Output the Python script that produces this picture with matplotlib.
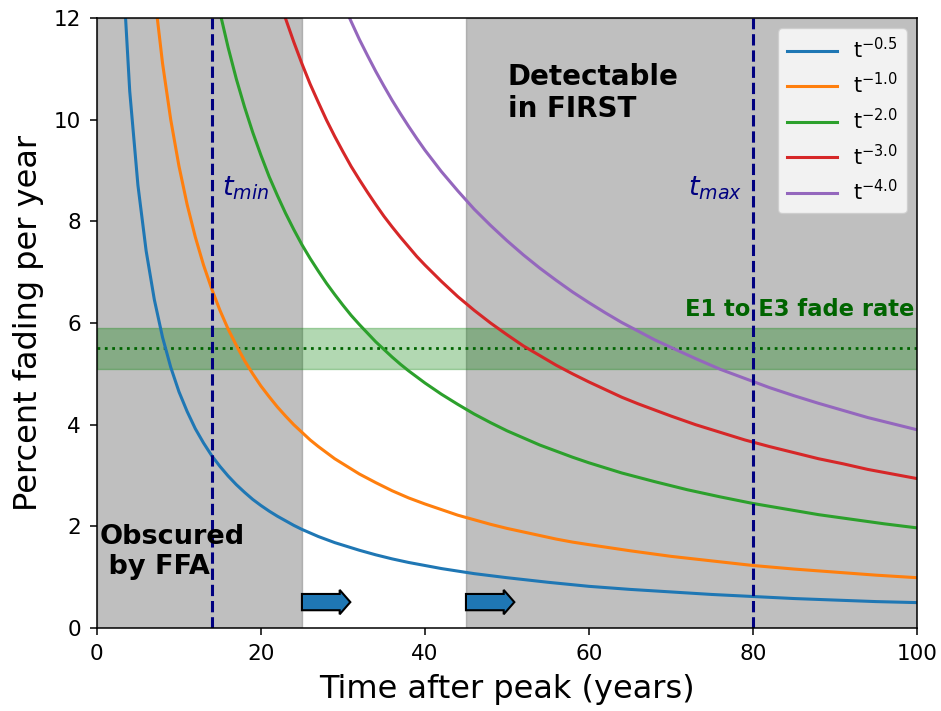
import numpy as np
import matplotlib
matplotlib.use("Agg")
import matplotlib.pyplot as plt
import matplotlib.patches as mpatches

# time after peak (years) and percent fading per year
t_05 = list(range(3, 31)) + list(range(32, 51, 2)) + list(range(55, 101, 5))
fade_05 = [13.40, 10.56, 8.71, 7.42, 6.46, 5.72, 5.13, 4.65, 4.26, 3.92,
           3.64, 3.39, 3.18, 2.99, 2.82, 2.67, 2.53, 2.41, 2.30, 2.20,
           2.11, 2.02, 1.94, 1.87, 1.80, 1.74, 1.68, 1.63,
           1.53, 1.44, 1.36, 1.29, 1.23, 1.17, 1.12, 1.07, 1.03, 0.99,
           0.90, 0.82, 0.76, 0.71, 0.66, 0.62, 0.58, 0.55, 0.52, 0.50]

t_10 = list(range(7, 31)) + list(range(32, 61, 2)) + list(range(65, 101, 5))
fade_10 = [12.50, 11.11, 10.00, 9.09, 8.33, 7.69, 7.14, 6.67, 6.25, 5.88,
           5.56, 5.26, 5.00, 4.76, 4.55, 4.35, 4.17, 4.00, 3.85, 3.70,
           3.57, 3.45, 3.33, 3.23,
           3.03, 2.86, 2.70, 2.56, 2.44, 2.33, 2.22, 2.13, 2.04, 1.96,
           1.89, 1.82, 1.75, 1.69, 1.64,
           1.52, 1.41, 1.32, 1.23, 1.16, 1.10, 1.04, 0.99]

t_20 = list(range(15, 41)) + list(range(42, 61, 2)) + list(range(64, 101, 4))
fade_20 = [12.11, 11.42, 10.80, 10.25, 9.75, 9.30, 8.88, 8.51, 8.16, 7.84,
           7.54, 7.27, 7.02, 6.78, 6.56, 6.35, 6.15, 5.97, 5.80, 5.63,
           5.48, 5.33, 5.19, 5.06, 4.94, 4.82,
           4.60, 4.40, 4.21, 4.04, 3.88, 3.74, 3.60, 3.48, 3.36, 3.25,
           3.05, 2.88, 2.72, 2.58, 2.45, 2.34, 2.23, 2.14, 2.05, 1.97]

t_30 = list(range(22, 41)) + list(range(42, 71, 2)) + list(range(73, 101, 3))
fade_30 = [12.49, 11.99, 11.53, 11.10, 10.70, 10.34, 9.99, 9.67, 9.37, 9.08,
           8.82, 8.57, 8.33, 8.10, 7.89, 7.69, 7.50, 7.31, 7.14,
           6.82, 6.52, 6.25, 6.00, 5.77, 5.55, 5.36, 5.17, 5.00, 4.84,
           4.69, 4.54, 4.41, 4.29, 4.17,
           4.00, 3.85, 3.70, 3.57, 3.45, 3.33, 3.23, 3.12, 3.03, 2.94]

t_40 = list(range(30, 45)) + list(range(46, 71, 2)) + list(range(73, 101, 3))
fade_40 = [12.29, 11.93, 11.58, 11.26, 10.95, 10.66, 10.38, 10.12, 9.87, 9.63,
           9.40, 9.19, 8.98, 8.79, 8.60,
           8.24, 7.92, 7.62, 7.34, 7.08, 6.84, 6.61, 6.40, 6.20, 6.01,
           5.84, 5.67, 5.52,
           5.30, 5.09, 4.91, 4.73, 4.57, 4.42, 4.28, 4.14, 4.02, 3.90]

labels = ["t$^{-0.5}$", "t$^{-1.0}$", "t$^{-2.0}$", "t$^{-3.0}$", "t$^{-4.0}$"]

t_min, t_max = 14, 80
ffa_end, first_start = 25, 45
e1e3_rate, e1e3_lo, e1e3_hi = 5.5, 5.1, 5.9

fig = plt.figure(figsize=(9.41, 7.11), dpi=100)
ax = fig.add_axes([0.103, 0.1167, 0.8715, 0.858])

ax.axvspan(0, ffa_end, color='gray', alpha=0.5)
ax.axvspan(first_start, 100, color='gray', alpha=0.5)
ax.axhspan(e1e3_lo, e1e3_hi, color='green', alpha=0.3)
ax.axhline(e1e3_rate, color='darkgreen', ls=':', lw=2)

curves = [(t_05, fade_05), (t_10, fade_10), (t_20, fade_20),
          (t_30, fade_30), (t_40, fade_40)]
for (x, y), lab in zip(curves, labels):
    ax.plot(x, y, lw=2.2, label=lab)

ax.axvline(t_min, color='navy', ls='--', lw=2.2)
ax.axvline(t_max, color='navy', ls='--', lw=2.2)

ax.text(15.2, 8.66, r"$t_{min}$", color='navy', fontsize=19.5, va='center')
ax.text(72.1, 8.66, r"$t_{max}$", color='navy', fontsize=19.5, va='center')
ax.text(50.1, 10.52, "Detectable\nin FIRST", fontsize=20, fontweight='bold',
        va='center')
ax.text(0.3, 1.5, "Obscured\n by FFA", fontsize=19.5, fontweight='bold',
        va='center')
ax.text(71.7, 6.27, "E1 to E3 fade rate", fontsize=16.3, fontweight='bold',
        color='darkgreen', va='center')

for x0 in [ffa_end, first_start]:
    arr = mpatches.FancyArrow(x0, 0.51, 5.9, 0, width=0.32, head_width=0.48,
                              head_length=1.3, length_includes_head=True,
                              facecolor='#1f77b4', edgecolor='black', lw=1.5,
                              zorder=5)
    ax.add_patch(arr)

ax.set_xlim(0, 100)
ax.set_ylim(0, 12)
ax.set_xlabel("Time after peak (years)", fontsize=23, labelpad=7)
ax.set_ylabel("Percent fading per year", fontsize=23, labelpad=7)
ax.tick_params(labelsize=15.5, length=5, width=1.1, pad=6.5)
for sp in ax.spines.values():
    sp.set_linewidth(1.1)
ax.legend(loc='upper right', fontsize=15, handlelength=2.4)

plt.savefig("out.png", dpi=100)
